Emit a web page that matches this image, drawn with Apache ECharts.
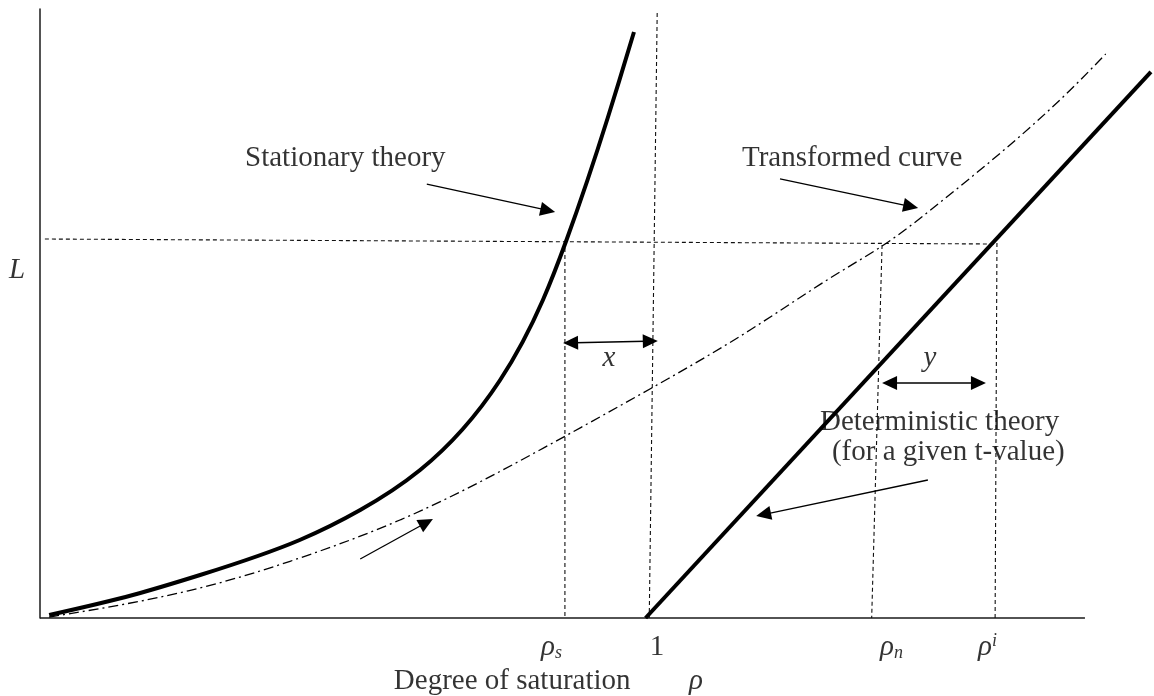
<!DOCTYPE html>
<html>
<head>
<meta charset="utf-8">
<script src="https://cdn.jsdelivr.net/npm/echarts@6/dist/echarts.min.js"></script>
<style>
  html, body { margin: 0; padding: 0; background: #fff; }
  #chart { width: 1154px; height: 696px; }
</style>
</head>
<body>
<div id="chart"></div>
<script>
// Queue length L against degree of saturation rho (schematic units).

// Stationary theory curve
const stationaryRho = [0.015, 0.152, 0.262, 0.425, 0.524, 0.622, 0.753, 0.823, 0.861, 0.929, 0.972];
const stationaryL   = [0.049, 0.378, 0.706, 1.281, 1.773, 2.430, 3.908, 5.222, 6.190, 8.210, 9.622];

// Transformed (time-dependent) curve
const transformedRho = [0.015, 0.262, 0.425, 0.589, 0.748, 0.818, 1.001, 1.162, 1.309, 1.378, 1.478, 1.686, 1.744];
const transformedL   = [0.016, 0.493, 0.985, 1.609, 2.381, 2.759, 3.777, 4.729, 5.681, 6.108, 6.864, 8.670, 9.261];

// Deterministic theory (for a given t-value)
const deterministicRho = [0.991, 1.818];
const deterministicL   = [0, 8.966];

// Extent of the drawn rho axis
const rhoAxisEnd = 1.71;

// Dashed construction lines: [rho1, L1, rho2, L2]
const guideLines = [
  [0.008, 6.223, 1.566, 6.141],   // common queue length
  [1.010, 9.934, 0.997, 0],       // rho = 1
  [0.859, 6.190, 0.859, 0],       // rho_s
  [1.378, 6.125, 1.361, 0],       // rho_n
  [1.566, 6.158, 1.563, 0]        // rho^i
];

// Arrows: [rho1, L1, rho2, L2, doubleHeaded]
const arrows = [
  [0.856, 4.516, 1.011, 4.548, 1],  // x
  [1.378, 3.859, 1.548, 3.859, 1],  // y
  [0.633, 7.126, 0.843, 6.667, 0],  // to stationary curve
  [1.211, 7.209, 1.437, 6.732, 0],  // to transformed curve
  [1.453, 2.266, 1.172, 1.675, 0],  // to deterministic line
  [0.524, 0.969, 0.643, 1.626, 0]   // transformation direction
];

// Annotation texts and their anchors (rho, L)
const annotationText = [
  'Stationary theory', 'Transformed curve', 'Deterministic theory', '(for a given t-value)',
  '{i|L}', '{i|x}', '{i|y}',
  '{i|ρ}{sub|s}', '1', '{i|ρ}{sub|n}', '{i|ρ}{sup|i}',
  'Degree of saturation', '{i|ρ}'
];
const annotationRho = [0.3355, 1.1488, 1.2764, 1.2960, -0.0376, 0.9310, 1.4564, 0.8198, 1.0097, 1.3746, 1.5350, 0.5790, 1.0620];
const annotationL   = [7.553, 7.553, 3.218, 2.726, 5.714, 4.269, 4.269, -0.476, -0.476, -0.476, -0.476, -1.034, -1.034];
const annotationAlign = ['left', 'left', 'left', 'left', 'center', 'center', 'center', 'left', 'center', 'left', 'left', 'left', 'left'];

const FONT = "'Liberation Serif', 'Times New Roman', serif";
const FS = 29;
const INK = '#000';

function zip(xs, ys) { return xs.map((v, i) => [v, ys[i]]); }

// Natural cubic spline (chord-length parameter) through pixel points, as path data.
function splinePath(pts) {
  const n = pts.length;
  const t = [0];
  for (let i = 1; i < n; i++) {
    t.push(t[i - 1] + Math.hypot(pts[i][0] - pts[i - 1][0], pts[i][1] - pts[i - 1][1]));
  }
  const h = [];
  for (let i = 0; i < n - 1; i++) h.push(t[i + 1] - t[i]);

  function secondDerivs(v) {
    const M = new Array(n).fill(0);
    if (n < 3) return M;
    const a = [], b = [], c = [], r = [];
    for (let i = 1; i < n - 1; i++) {
      a.push(h[i - 1]);
      b.push(2 * (h[i - 1] + h[i]));
      c.push(h[i]);
      r.push(6 * ((v[i + 1] - v[i]) / h[i] - (v[i] - v[i - 1]) / h[i - 1]));
    }
    const m = b.length;
    for (let i = 1; i < m; i++) {
      const w = a[i] / b[i - 1];
      b[i] -= w * c[i - 1];
      r[i] -= w * r[i - 1];
    }
    const sol = new Array(m);
    sol[m - 1] = r[m - 1] / b[m - 1];
    for (let i = m - 2; i >= 0; i--) sol[i] = (r[i] - c[i] * sol[i + 1]) / b[i];
    for (let i = 0; i < m; i++) M[i + 1] = sol[i];
    return M;
  }

  const xs = pts.map(p => p[0]), ys = pts.map(p => p[1]);
  const Mx = secondDerivs(xs), My = secondDerivs(ys);
  let d = 'M' + xs[0].toFixed(2) + ',' + ys[0].toFixed(2);
  for (let i = 0; i < n - 1; i++) {
    const hi = h[i];
    const dx0 = (xs[i + 1] - xs[i]) / hi - hi * (2 * Mx[i] + Mx[i + 1]) / 6;
    const dy0 = (ys[i + 1] - ys[i]) / hi - hi * (2 * My[i] + My[i + 1]) / 6;
    const dx1 = (xs[i + 1] - xs[i]) / hi + hi * (Mx[i] + 2 * Mx[i + 1]) / 6;
    const dy1 = (ys[i + 1] - ys[i]) / hi + hi * (My[i] + 2 * My[i + 1]) / 6;
    const c1 = [xs[i] + hi * dx0 / 3, ys[i] + hi * dy0 / 3];
    const c2 = [xs[i + 1] - hi * dx1 / 3, ys[i + 1] - hi * dy1 / 3];
    d += ' C' + c1[0].toFixed(2) + ',' + c1[1].toFixed(2) + ' ' +
         c2[0].toFixed(2) + ',' + c2[1].toFixed(2) + ' ' +
         xs[i + 1].toFixed(2) + ',' + ys[i + 1].toFixed(2);
  }
  return d;
}

function curveSeries(name, xs, ys, style) {
  return {
    name: name, type: 'custom', clip: false, z: 2,
    data: [[xs[0], ys[0]]],
    renderItem: function (params, api) {
      const pts = xs.map((x, i) => api.coord([x, ys[i]]));
      return {
        type: 'path', silent: true,
        shape: { pathData: splinePath(pts) },
        style: Object.assign({ fill: null, stroke: INK }, style)
      };
    }
  };
}

function segmentRenderer(stroke, width, dash) {
  return function (params, api) {
    const a = api.coord([api.value(0), api.value(1)]);
    const b = api.coord([api.value(2), api.value(3)]);
    return {
      type: 'line',
      shape: { x1: a[0], y1: a[1], x2: b[0], y2: b[1] },
      style: { stroke: stroke, lineWidth: width, lineDash: dash || null },
      silent: true
    };
  };
}

function renderArrow(params, api) {
  const a = api.coord([api.value(0), api.value(1)]);
  const b = api.coord([api.value(2), api.value(3)]);
  const both = api.value(4) === 1;
  const head = 15, half = 7;
  const dx = b[0] - a[0], dy = b[1] - a[1];
  const len = Math.hypot(dx, dy);
  const ux = dx / len, uy = dy / len;
  function headAt(tip, sx, sy) {
    const bx = tip[0] - sx * head, by = tip[1] - sy * head;
    return {
      type: 'polygon',
      shape: { points: [tip, [bx - sy * half, by + sx * half], [bx + sy * half, by - sx * half]] },
      style: { fill: INK }
    };
  }
  const start = both ? [a[0] + ux * head * 0.8, a[1] + uy * head * 0.8] : a;
  const end = [b[0] - ux * head * 0.8, b[1] - uy * head * 0.8];
  const children = [
    { type: 'line', shape: { x1: start[0], y1: start[1], x2: end[0], y2: end[1] },
      style: { stroke: INK, lineWidth: 1.3 } },
    headAt(b, ux, uy)
  ];
  if (both) children.push(headAt(a, -ux, -uy));
  return { type: 'group', children: children, silent: true };
}

const labelData = annotationText.map((t, i) => ({
  value: [annotationRho[i], annotationL[i]],
  label: { formatter: t, align: annotationAlign[i] }
}));

const chart = echarts.init(document.getElementById('chart'), null, { renderer: 'canvas' });
chart.setOption({
  animation: false,
  backgroundColor: '#fff',
  grid: { left: 40, right: 0, top: 9, bottom: 78, containLabel: false },
  xAxis: {
    type: 'value', min: 0, max: 1.823,
    axisLine: { show: false },
    axisTick: { show: false }, axisLabel: { show: false }, splitLine: { show: false }
  },
  yAxis: {
    type: 'value', min: 0, max: 10,
    axisLine: { show: true, onZero: false, lineStyle: { color: '#1a1a1a', width: 1.5 } },
    axisTick: { show: false }, axisLabel: { show: false }, splitLine: { show: false }
  },
  series: [
    curveSeries('Stationary theory', stationaryRho, stationaryL, { lineWidth: 4 }),
    curveSeries('Transformed curve', transformedRho, transformedL, { lineWidth: 1.3, lineDash: [10, 4, 2, 4] }),
    {
      name: 'Deterministic theory', type: 'line', data: zip(deterministicRho, deterministicL),
      symbol: 'none', clip: false,
      lineStyle: { color: INK, width: 4 }
    },
    {
      // rho axis, ending short of the plot's right edge
      type: 'custom', renderItem: segmentRenderer('#1a1a1a', 1.5, null),
      data: [[0, 0, rhoAxisEnd, 0]], clip: false, z: 1
    },
    {
      type: 'custom', renderItem: segmentRenderer('#111', 1.1, [4, 3]),
      data: guideLines, clip: false, z: 1
    },
    {
      type: 'custom', renderItem: renderArrow, data: arrows, clip: false, z: 3
    },
    {
      type: 'scatter', data: labelData, symbolSize: 0, clip: false, silent: true, z: 4,
      label: {
        show: true, position: 'inside', verticalAlign: 'middle',
        color: INK, fontFamily: FONT, fontSize: FS,
        rich: {
          i: { fontFamily: FONT, fontSize: FS, fontStyle: 'italic', color: INK },
          sub: { fontFamily: FONT, fontSize: 18, fontStyle: 'italic', color: INK, verticalAlign: 'bottom', padding: [12, 0, 0, 0] },
          sup: { fontFamily: FONT, fontSize: 18, fontStyle: 'italic', color: INK, verticalAlign: 'top', padding: [0, 0, 10, 0] }
        }
      }
    }
  ]
});
</script>
</body>
</html>
